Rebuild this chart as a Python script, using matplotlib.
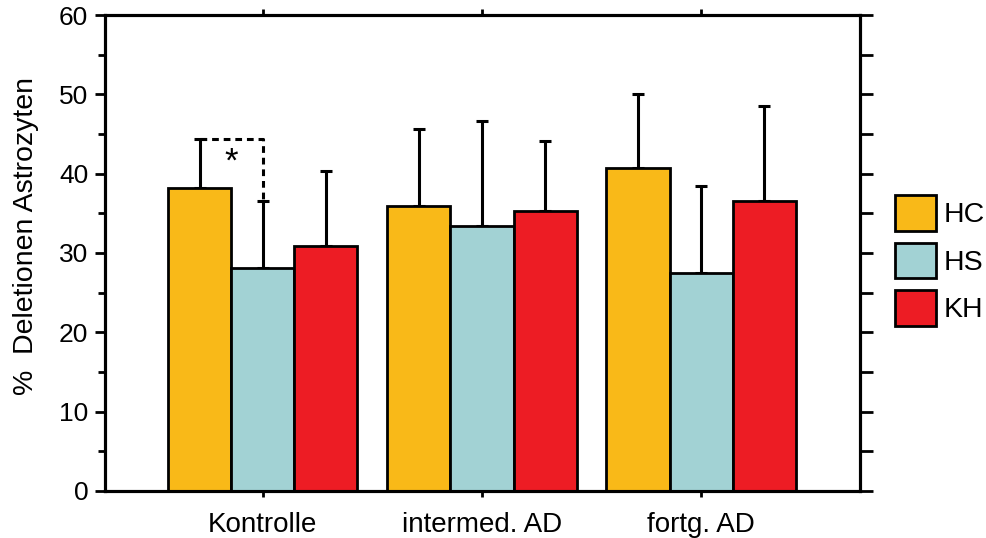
import numpy as np
import matplotlib
matplotlib.use('Agg')
import matplotlib.pyplot as plt

plt.rcParams['font.family'] = ['Liberation Sans', 'DejaVu Sans']

groups = ['Kontrolle', 'intermed. AD', 'fortg. AD']
series = ['HC', 'HS', 'KH']
hc = [38.2, 35.9, 40.7]
hs = [28.1, 33.4, 27.5]
kh = [30.9, 35.3, 36.6]
hc_sd = [6.2, 9.7, 9.3]
hs_sd = [8.5, 13.2, 10.9]
kh_sd = [9.4, 8.8, 11.9]
colors = ['#F9B918', '#A2D2D4', '#ED1C24']

fig = plt.figure(figsize=(9.86, 5.38), dpi=100)
ax = fig.add_axes([0.1065, 0.0874, 0.7657, 0.8847])

x = np.arange(len(groups))
w = 0.288
vals = [hc, hs, kh]
sds = [hc_sd, hs_sd, kh_sd]
for i in range(3):
    pos = x + (i - 1) * w
    ax.bar(pos, vals[i], w, color=colors[i], edgecolor='black', linewidth=2,
           label=series[i], zorder=3)
    ax.errorbar(pos, vals[i], yerr=[np.zeros(3), sds[i]], fmt='none',
                ecolor='black', elinewidth=2.2, capsize=4.5, capthick=2.2, zorder=2)

# significance bracket HC vs HS (Kontrolle)
top_hc = hc[0] + hc_sd[0]
top_hs = hs[0] + hs_sd[0]
ax.plot([x[0] - w, x[0], x[0]], [top_hc, top_hc, top_hs], color='black',
        linestyle=(0, (2.2, 1.6)), linewidth=2.2, zorder=4)
ax.text(x[0] - w / 2, top_hc - 5.0, '*', ha='center', va='bottom',
        fontsize=25)

ax.set_ylim(0, 60)
ax.set_xlim(-0.72, 2.725)
ax.set_yticks(np.arange(0, 61, 10))
ax.set_yticks(np.arange(5, 60, 10), minor=True)
ax.set_xticks(x)
ax.set_xticklabels(groups, fontsize=20)
ax.tick_params(axis='y', which='major', length=7, width=2, labelsize=19, pad=5)
ax.tick_params(axis='y', which='minor', length=5, width=2)
ax.tick_params(axis='x', length=4, width=2, pad=11)
for s in ax.spines.values():
    s.set_linewidth(2.2)
ax.set_ylabel('%  Deletionen Astrozyten', fontsize=20.5)
ax.yaxis.set_label_coords(-0.087, 0.535)

# ticks on right and top
axr = ax.twinx()
axr.set_ylim(0, 60)
axr.set_yticks(np.arange(0, 61, 5))
axr.set_yticklabels([])
axr.tick_params(axis='y', length=9, width=2)
axt = ax.twiny()
axt.set_xlim(ax.get_xlim())
axt.set_xticks(x)
axt.set_xticklabels([])
axt.tick_params(axis='x', length=4, width=2)
for a in (axr, axt):
    for s in a.spines.values():
        s.set_linewidth(2.2)

ax.legend(loc='upper left', bbox_to_anchor=(0.9077, 0.6375), bbox_transform=fig.transFigure,
          frameon=False, fontsize=20.5, borderpad=0, borderaxespad=0,
          handlelength=1.45, handleheight=1.55, handletextpad=0.25, labelspacing=0.42)

fig.savefig('out.png', dpi=100)
